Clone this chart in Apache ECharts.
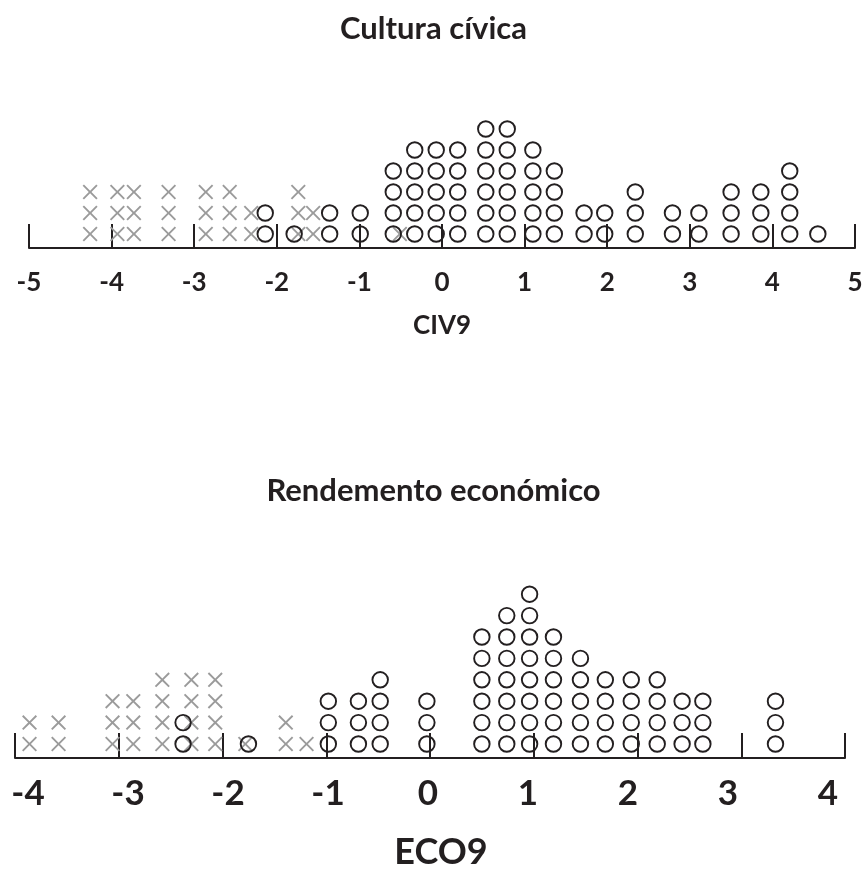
<!DOCTYPE html>
<html>
<head>
<meta charset="utf-8">
<script src="https://cdn.jsdelivr.net/npm/echarts@6/dist/echarts.min.js"></script>
<style>
html,body{margin:0;padding:0;background:#fff;}
#c{width:867px;height:873px;}
</style>
</head>
<body>
<div id="c"></div>
<script>
// ---- Data ----
const civTitle = 'Cultura cívica';
const civAxisName = 'CIV9';
const civTicks = [-5, -4, -3, -2, -1, 0, 1, 2, 3, 4, 5];
// gray crosses: column position and number of stacked marks
const civCrossX = [-4.26, -3.93, -3.73, -3.31, -2.86, -2.57, -2.31, -1.74, -1.56, -0.51];
const civCrossN = [3, 3, 3, 3, 3, 3, 2, 3, 2, 1];
// circles
const civCircleX = [-2.14, -1.79, -1.36, -0.99, -0.59, -0.33, -0.07, 0.19, 0.53, 0.79, 1.10, 1.36, 1.72, 1.97, 2.34, 2.79, 3.11, 3.50, 3.86, 4.21, 4.55];
const civCircleN = [2, 1, 2, 2, 4, 5, 5, 5, 6, 6, 5, 4, 2, 2, 3, 2, 2, 3, 3, 4, 1];

const ecoTitle = 'Rendemento económico';
const ecoAxisName = 'ECO9';
const ecoTicks = [-4, -3, -2, -1, 0, 1, 2, 3, 4];
const ecoCrossX = [-3.86, -3.58, -3.06, -2.86, -2.58, -2.30, -2.07, -1.78, -1.39, -1.19];
const ecoCrossN = [2, 2, 3, 3, 4, 4, 4, 1, 2, 1];
const ecoCircleX = [-2.38, -1.75, -0.98, -0.69, -0.48, -0.03, 0.50, 0.74, 0.96, 1.19, 1.45, 1.69, 1.94, 2.19, 2.43, 2.63, 3.33];
const ecoCircleN = [2, 1, 3, 3, 4, 3, 6, 7, 8, 6, 5, 4, 4, 4, 3, 3, 3];

// ---- build stacked dot positions ----
function stack(xs, ns) {
  const pts = [];
  xs.forEach((x, i) => { for (let k = 1; k <= ns[i]; k++) pts.push([x, k]); });
  return pts;
}

const INK = '#231f20';
const GRAY = '#9b9b9b';
const FONT = 'Lato';
const crossPath = 'path://M0,9L9,0L50,41L91,0L100,9L59,50L100,91L91,100L50,59L9,100L0,91L41,50Z';

function crossSeries(xi, yi, data) {
  return {
    type: 'scatter', xAxisIndex: xi, yAxisIndex: yi, data: data,
    symbol: crossPath, symbolSize: 15, z: 2, silent: true,
    itemStyle: { color: GRAY, opacity: 1 }
  };
}
function circleSeries(xi, yi, data) {
  return {
    type: 'scatter', xAxisIndex: xi, yAxisIndex: yi, data: data,
    symbol: 'circle', symbolSize: 15.5, z: 3, silent: true,
    itemStyle: { color: 'rgba(0,0,0,0)', borderColor: INK, borderWidth: 1.9, opacity: 1 }
  };
}

const chart = echarts.init(document.getElementById('c'), null, { renderer: 'canvas' });
chart.setOption({
  backgroundColor: '#fff',
  animation: false,
  title: [
    { text: civTitle, left: 'center', top: 8, textStyle: { fontFamily: FONT, fontSize: 31, fontWeight: 'bold', color: INK } },
    { text: ecoTitle, left: 'center', top: 470, textStyle: { fontFamily: FONT, fontSize: 31, fontWeight: 'bold', color: INK } }
  ],
  grid: [
    { left: 29, right: 12, top: 80, bottom: 625, containLabel: false },
    { left: 15, right: 22, top: 540, bottom: 115, containLabel: false }
  ],
  xAxis: [
    {
      gridIndex: 0, type: 'value', position: 'bottom', min: civTicks[0], max: civTicks[civTicks.length - 1], interval: 1,
      splitLine: { show: false },
      axisLine: { show: true, onZero: false, lineStyle: { color: INK, width: 2 } },
      axisTick: { show: true, inside: true, length: 24, lineStyle: { color: INK, width: 2 } },
      axisLabel: { show: true, margin: 22, fontFamily: FONT, fontSize: 26, fontWeight: 'bold', color: INK },
      name: civAxisName, nameLocation: 'middle', nameGap: 65,
      nameTextStyle: { fontFamily: FONT, fontSize: 26, fontWeight: 'bold', color: INK }
    },
    {
      gridIndex: 1, type: 'value', position: 'bottom', min: ecoTicks[0], max: ecoTicks[ecoTicks.length - 1], interval: 1,
      splitLine: { show: false },
      axisLine: { show: true, onZero: false, lineStyle: { color: INK, width: 2 } },
      axisTick: { show: true, inside: true, length: 25, lineStyle: { color: INK, width: 2 } },
      axisLabel: { show: false }
    },
    {
      gridIndex: 1, type: 'value', position: 'bottom', offset: 0, min: -4.13, max: 4.17,
      splitLine: { show: false },
      axisLine: { show: false, onZero: false },
      axisTick: { show: false },
      axisLabel: { show: true, customValues: ecoTicks, margin: 18, fontFamily: FONT, fontSize: 35, fontWeight: 'bold', color: INK },
      name: ecoAxisName, nameLocation: 'middle', nameGap: 76,
      nameTextStyle: { fontFamily: FONT, fontSize: 36, fontWeight: 'bold', color: INK, padding: [0, 0, 0, 22] }
    }
  ],
  yAxis: [
    { gridIndex: 0, type: 'value', min: 0.333, max: 8.333, show: false },
    { gridIndex: 1, type: 'value', min: 0.346, max: 10.533, show: false }
  ],
  series: [
    crossSeries(0, 0, stack(civCrossX, civCrossN)),
    circleSeries(0, 0, stack(civCircleX, civCircleN)),
    crossSeries(1, 1, stack(ecoCrossX, ecoCrossN)),
    circleSeries(1, 1, stack(ecoCircleX, ecoCircleN))
  ]
});
</script>
</body>
</html>
